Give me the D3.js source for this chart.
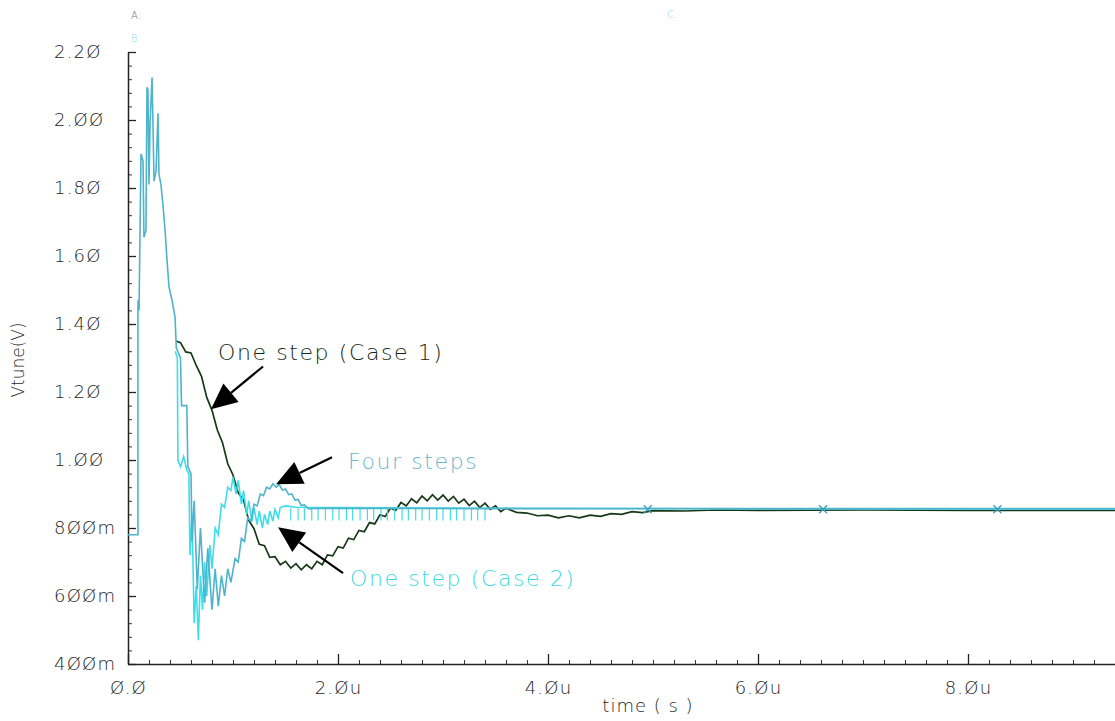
<!DOCTYPE html>
<html>
<head>
<meta charset="utf-8">
<script src="https://cdn.jsdelivr.net/npm/d3@7"></script>
<style>
  body { margin: 0; background: #fff; }
  svg { display: block; }
  text { font-family: "DejaVu Sans", sans-serif; font-weight: 300; }
</style>
</head>
<body>
<svg id="chart" width="1115" height="721"></svg>
<script>
// axis ticks (Cadence style slashed zeros)
const yTicks = [0.4, 0.6, 0.8, 1.0, 1.2, 1.4, 1.6, 1.8, 2.0, 2.2];
const yTickLabels = ["4ØØm", "6ØØm", "8ØØm", "1.ØØ", "1.2Ø", "1.4Ø", "1.6Ø", "1.8Ø", "2.ØØ", "2.2Ø"];
const xTicks = [0, 2, 4, 6, 8];
const xTickLabels = ["Ø.Ø", "2.Øu", "4.Øu", "6.Øu", "8.Øu"];

// Vtune traces, [time (us), volts]
const case1 = [
  [0.457, 1.350], [0.50, 1.345], [0.55, 1.318], [0.60, 1.315], [0.65, 1.278], [0.70, 1.246],
  [0.75, 1.184], [0.80, 1.146], [0.85, 1.089], [0.90, 1.051], [0.95, 0.989], [1.00, 0.956],
  [1.05, 0.903], [1.10, 0.882], [1.15, 0.822], [1.20, 0.798], [1.25, 0.752], [1.30, 0.748],
  [1.35, 0.714], [1.40, 0.716], [1.45, 0.692], [1.50, 0.702], [1.55, 0.682], [1.60, 0.695],
  [1.65, 0.677], [1.70, 0.692], [1.75, 0.680], [1.80, 0.702], [1.85, 0.692], [1.90, 0.721],
  [1.95, 0.718], [2.00, 0.745], [2.05, 0.741], [2.10, 0.770], [2.15, 0.766], [2.20, 0.793],
  [2.25, 0.789], [2.30, 0.816], [2.35, 0.812], [2.40, 0.839], [2.45, 0.834], [2.50, 0.859],
  [2.55, 0.852], [2.60, 0.875], [2.65, 0.865], [2.70, 0.886], [2.75, 0.874], [2.80, 0.894],
  [2.85, 0.880], [2.90, 0.898], [2.95, 0.882], [3.00, 0.897], [3.05, 0.879], [3.10, 0.893],
  [3.15, 0.873], [3.20, 0.885], [3.25, 0.866], [3.30, 0.879], [3.35, 0.860], [3.40, 0.873],
  [3.45, 0.855], [3.50, 0.865], [3.55, 0.848], [3.60, 0.858], [3.70, 0.846], [3.80, 0.844],
  [3.90, 0.836], [4.00, 0.838], [4.10, 0.830], [4.20, 0.836], [4.30, 0.830], [4.40, 0.838],
  [4.50, 0.834], [4.60, 0.842], [4.70, 0.840], [4.80, 0.848], [4.90, 0.845], [5.00, 0.851],
  [5.30, 0.850], [5.60, 0.853], [6.00, 0.852], [7.00, 0.853], [8.00, 0.852], [9.40, 0.852]
];

const fourSteps = [
  [0, 0.78], [0.095, 0.78], [0.095, 1.47], [0.105, 1.44], [0.124, 1.90], [0.143, 1.88],
  [0.152, 1.655], [0.171, 1.675], [0.181, 2.096], [0.19, 2.09], [0.20, 1.81], [0.21, 1.99],
  [0.229, 2.125], [0.238, 1.985], [0.248, 1.82], [0.267, 1.85], [0.286, 2.02], [0.295, 1.84],
  [0.314, 1.81], [0.333, 1.75], [0.352, 1.68], [0.371, 1.59], [0.39, 1.51], [0.419, 1.47],
  [0.448, 1.42], [0.46, 1.33], [0.50, 1.30], [0.51, 1.16], [0.56, 1.16], [0.57, 0.98],
  [0.60, 0.96], [0.61, 0.76], [0.63, 0.88], [0.66, 0.62], [0.69, 0.80], [0.73, 0.58],
  [0.76, 0.74], [0.80, 0.56], [0.83, 0.68], [0.86, 0.57], [0.89, 0.66], [0.92, 0.60],
  [0.95, 0.68], [0.98, 0.64], [1.02, 0.71], [1.05, 0.70], [1.08, 0.77], [1.11, 0.76],
  [1.14, 0.83], [1.17, 0.82], [1.20, 0.87], [1.23, 0.865], [1.26, 0.90], [1.29, 0.895],
  [1.32, 0.92], [1.35, 0.915], [1.38, 0.93], [1.41, 0.92], [1.44, 0.928], [1.47, 0.912],
  [1.50, 0.915], [1.53, 0.898], [1.56, 0.90], [1.59, 0.882], [1.62, 0.884], [1.65, 0.866],
  [1.68, 0.868], [1.72, 0.856], [1.80, 0.858], [3.50, 0.857], [9.40, 0.857]
];

const case2 = [
  [0.45, 1.32], [0.47, 1.30], [0.475, 1.00], [0.50, 0.98], [0.53, 1.01], [0.56, 0.97],
  [0.58, 0.96], [0.59, 0.72], [0.61, 0.84], [0.63, 0.52], [0.65, 0.63], [0.67, 0.47],
  [0.69, 0.66], [0.71, 0.56], [0.73, 0.70], [0.75, 0.60], [0.78, 0.75], [0.80, 0.68],
  [0.83, 0.80], [0.86, 0.78], [0.89, 0.87], [0.92, 0.86], [0.95, 0.92], [0.98, 0.91],
  [1.00, 0.95], [1.03, 0.90], [1.05, 0.94], [1.08, 0.87], [1.10, 0.91], [1.13, 0.84],
  [1.15, 0.88], [1.18, 0.82], [1.20, 0.86], [1.23, 0.81], [1.25, 0.85], [1.28, 0.80],
  [1.30, 0.84], [1.33, 0.81], [1.35, 0.85], [1.38, 0.82], [1.40, 0.855], [1.43, 0.83],
  [1.45, 0.86], [1.50, 0.865], [1.60, 0.861], [3.50, 0.858], [9.40, 0.855]
];

// downward glitches on the settled case 2 trace
const case2SpikeTimes = [1.55, 1.62, 1.68, 1.75, 1.81, 1.88, 1.95, 2.01, 2.08, 2.14, 2.21, 2.28,
  2.34, 2.41, 2.47, 2.54, 2.61, 2.67, 2.74, 2.80, 2.87, 2.94, 3.00, 3.07, 3.13, 3.20, 3.27, 3.33, 3.40];
const case2SpikeLow = 0.822;

const markerTimes = [4.95, 6.62, 8.28];
const markerLevel = 0.855;

// annotations: text anchor and arrow [from, to] in data units
const notes = [
  { text: "One step (Case 1)", at: [0.857, 1.316], from: [1.286, 1.275], to: [0.79, 1.149], color: "#152a16" },
  { text: "Four steps", at: [2.095, 0.996], from: [1.943, 1.008], to: [1.41, 0.929], color: "#6cb6cb" },
  { text: "One step (Case 2)", at: [2.114, 0.652], from: [2.048, 0.667], to: [1.429, 0.802], color: "#3fd8e4" }
];

const svg = d3.select("#chart");
svg.append("rect").attr("width", 1115).attr("height", 721).attr("fill", "#fff");

const x = d3.scaleLinear().domain([0, 9.4]).range([128, 1115]);
const y = d3.scaleLinear().domain([0.4, 2.2]).range([664, 52]);

// header remnants of the waveform window
svg.append("text").attr("x", 131).attr("y", 19).attr("font-size", 10).attr("fill", "#777").text("A:");
svg.append("text").attr("x", 131).attr("y", 42).attr("font-size", 10).attr("fill", "#8fe0ea").text("B:");
svg.append("text").attr("x", 667).attr("y", 18).attr("font-size", 10).attr("fill", "#8fe0ea").text("C:");

// minor ticks
svg.append("g")
  .attr("transform", "translate(128,0)")
  .call(d3.axisLeft(y).tickValues(d3.range(0.4, 2.2001, 0.04)).tickSize(-4).tickFormat(""))
  .call(g => g.select(".domain").remove())
  .selectAll("line").attr("stroke", "#333");
svg.append("g")
  .attr("transform", "translate(0,664)")
  .call(d3.axisBottom(x).tickValues(d3.range(0, 9.4, 0.2)).tickSize(-4).tickFormat(""))
  .call(g => g.select(".domain").remove())
  .selectAll("line").attr("stroke", "#333");

// major y axis
const yAxis = svg.append("g")
  .attr("transform", "translate(128,0)")
  .call(d3.axisLeft(y).tickValues(yTicks).tickSize(-8).tickSizeOuter(0)
    .tickFormat((d, i) => yTickLabels[i]));
yAxis.select(".domain").attr("stroke", "#222").attr("stroke-width", 1.5);
yAxis.selectAll(".tick line").attr("stroke", "#222").attr("stroke-width", 1.3);
yAxis.selectAll(".tick text")
  .attr("x", -74).attr("dy", "0.3em").attr("text-anchor", "start")
  .attr("font-family", "DejaVu Sans").attr("font-size", 18)
  .attr("letter-spacing", 1.2).attr("fill", "#1e1e1e");

// major x axis
const xAxis = svg.append("g")
  .attr("transform", "translate(0,664)")
  .call(d3.axisBottom(x).tickValues(xTicks).tickSize(-10).tickSizeOuter(0)
    .tickFormat((d, i) => xTickLabels[i]));
xAxis.select(".domain").attr("stroke", "#222").attr("stroke-width", 1.5);
xAxis.selectAll(".tick line").attr("stroke", "#222").attr("stroke-width", 1.3);
xAxis.selectAll(".tick text")
  .attr("y", 24).attr("dy", "0.35em")
  .attr("font-family", "DejaVu Sans").attr("font-size", 18)
  .attr("letter-spacing", 1.2).attr("fill", "#1e1e1e");

// axis titles
svg.append("text")
  .attr("x", 648).attr("y", 712)
  .attr("text-anchor", "middle").attr("font-size", 18).attr("fill", "#1e1e1e")
  .attr("letter-spacing", 1)
  .text("time ( s )");
svg.append("text")
  .attr("transform", "translate(24,360) rotate(-90)")
  .attr("text-anchor", "middle").attr("font-size", 17).attr("fill", "#1e1e1e")
  .text("Vtune(V)");

// traces
const line = d3.line().x(d => x(d[0])).y(d => y(d[1]));
svg.append("path").datum(case1)
  .attr("d", line).attr("fill", "none").attr("stroke", "#173817").attr("stroke-width", 1.7);
svg.append("path").datum(case2)
  .attr("d", line).attr("fill", "none").attr("stroke", "#3fdde9").attr("stroke-width", 1.6);
svg.append("g").selectAll("line").data(case2SpikeTimes).join("line")
  .attr("x1", d => x(d)).attr("x2", d => x(d))
  .attr("y1", y(0.858)).attr("y2", y(case2SpikeLow))
  .attr("stroke", "#3fdde9").attr("stroke-width", 1.2);
svg.append("path").datum(fourSteps)
  .attr("d", line).attr("fill", "none").attr("stroke", "#4fb3cc").attr("stroke-width", 1.6);

// small waveform markers
svg.append("g").selectAll("path").data(markerTimes).join("path")
  .attr("d", d => {
    const cx = x(d), cy = y(markerLevel);
    return `M${cx - 4},${cy - 4}L${cx + 4},${cy + 4}M${cx + 4},${cy - 4}L${cx - 4},${cy + 4}`;
  })
  .attr("stroke", "#3a9fb8").attr("stroke-width", 1.3);

// annotations
notes.forEach(n => {
  svg.append("text")
    .attr("x", x(n.at[0])).attr("y", y(n.at[1]))
    .attr("dy", "0.35em").attr("font-size", 22).attr("letter-spacing", 1.6)
    .attr("fill", n.color)
    .text(n.text);

  const x1 = x(n.from[0]), y1 = y(n.from[1]);
  const x2 = x(n.to[0]), y2 = y(n.to[1]);
  const ang = Math.atan2(y2 - y1, x2 - x1);
  const len = 26, half = 12;
  const bx = x2 - len * Math.cos(ang), by = y2 - len * Math.sin(ang);
  svg.append("line")
    .attr("x1", x1).attr("y1", y1).attr("x2", bx).attr("y2", by)
    .attr("stroke", "#000").attr("stroke-width", 2.2);
  const px = -Math.sin(ang) * half, py = Math.cos(ang) * half;
  svg.append("path")
    .attr("d", `M${x2},${y2}L${bx + px},${by + py}L${bx - px},${by - py}Z`)
    .attr("fill", "#000");
});
</script>
</body>
</html>
